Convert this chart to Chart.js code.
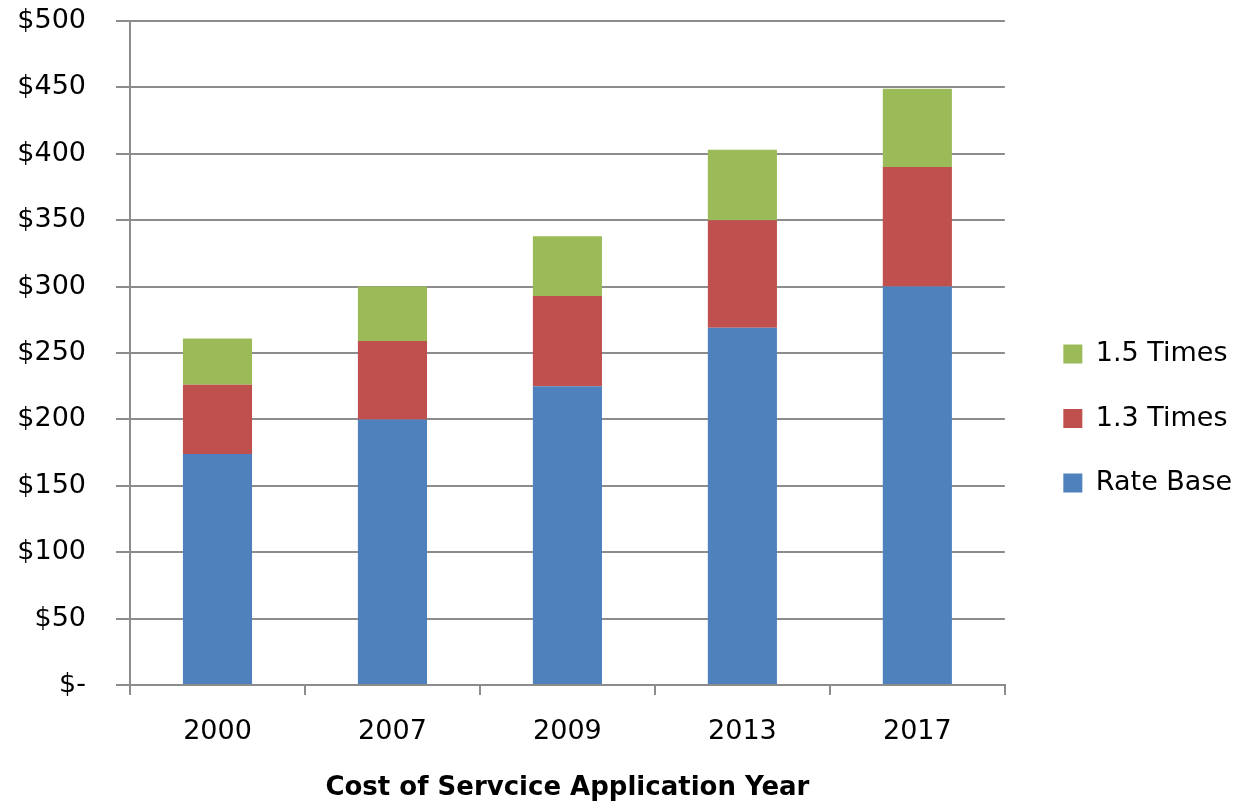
<!DOCTYPE html>
<html>
<head>
<meta charset="utf-8">
<script src="https://cdn.jsdelivr.net/npm/chart.js@4/dist/chart.umd.min.js"></script>
<style>
  html, body { margin: 0; padding: 0; background: #ffffff; }
  #wrap { width: 1235px; height: 806px; position: relative; }
</style>
</head>
<body>
<div id="wrap"><canvas id="c" width="1235" height="806"></canvas></div>
<script>
const categories = ['2000', '2007', '2009', '2013', '2017'];
const rateBase = [174, 200, 225, 269, 300];
const times13 = [52, 59, 68, 81, 90];
const times15 = [35, 41, 45, 53, 59];
const seriesNames = ['Rate Base', '1.3 Times', '1.5 Times'];
const yTickValues = [0, 50, 100, 150, 200, 250, 300, 350, 400, 450, 500];
const xTitle = 'Cost of Servcice Application Year';

const FONT = "'DejaVu Sans', Verdana, sans-serif";
const GRID = '#8c8c8c';
const TEXT = '#000';

new Chart(document.getElementById('c'), {
  type: 'bar',
  data: {
    labels: categories,
    datasets: [
      { label: seriesNames[0], data: rateBase, backgroundColor: '#4F81BD', barPercentage: 0.395, categoryPercentage: 1 },
      { label: seriesNames[1], data: times13, backgroundColor: '#C0504D', barPercentage: 0.395, categoryPercentage: 1 },
      { label: seriesNames[2], data: times15, backgroundColor: '#9BBB59', barPercentage: 0.395, categoryPercentage: 1 }
    ]
  },
  options: {
    responsive: false,
    animation: false,
    devicePixelRatio: 1,
    layout: { padding: { top: 4, left: 0, right: 4, bottom: 0 } },
    plugins: {
      tooltip: { enabled: false },
      legend: {
        position: 'right',
        reverse: true,
        title: { display: true, text: ' ', font: { size: 10 }, padding: 7.5 },
        labels: {
          boxWidth: 19, boxHeight: 19, padding: 37.5,
          color: TEXT, font: { family: FONT, size: 27 }
        }
      }
    },
    scales: {
      x: {
        stacked: true,
        grid: { display: true, drawOnChartArea: false, drawTicks: true, tickLength: 10, offset: true, color: GRID, lineWidth: 2 },
        border: { display: true, color: GRID, width: 2 },
        ticks: { color: TEXT, font: { family: FONT, size: 27 }, padding: 21, autoSkip: false, maxRotation: 0 },
        title: { display: true, text: xTitle, color: TEXT, font: { family: FONT, size: 26, weight: 'bold' }, padding: { top: 2, bottom: 2 } },
        afterFit(s) { s.height = 121; }
      },
      y: {
        stacked: true,
        min: 0, max: 500,
        afterBuildTicks(s) { s.ticks = yTickValues.map(v => ({ value: v })); },
        grid: { color: GRID, lineWidth: 2, tickLength: 14, drawTicks: true },
        border: { display: true, color: GRID, width: 2 },
        ticks: {
          color: TEXT, font: { family: FONT, size: 27 }, padding: 30, autoSkip: false,
          callback: (v) => v === 0 ? '$-' : '$' + v
        },
        afterFit(s) { s.width = 130; s.paddingTop = 21; s.paddingBottom = 0; }
      },
      y2: {
        position: 'right',
        display: true,
        grid: { display: false, drawTicks: false },
        border: { display: false },
        ticks: { display: false },
        afterFit(s) { s.width = 21; s.paddingTop = 0; s.paddingBottom = 0; }
      }
    }
  }
});
</script>
</body>
</html>
